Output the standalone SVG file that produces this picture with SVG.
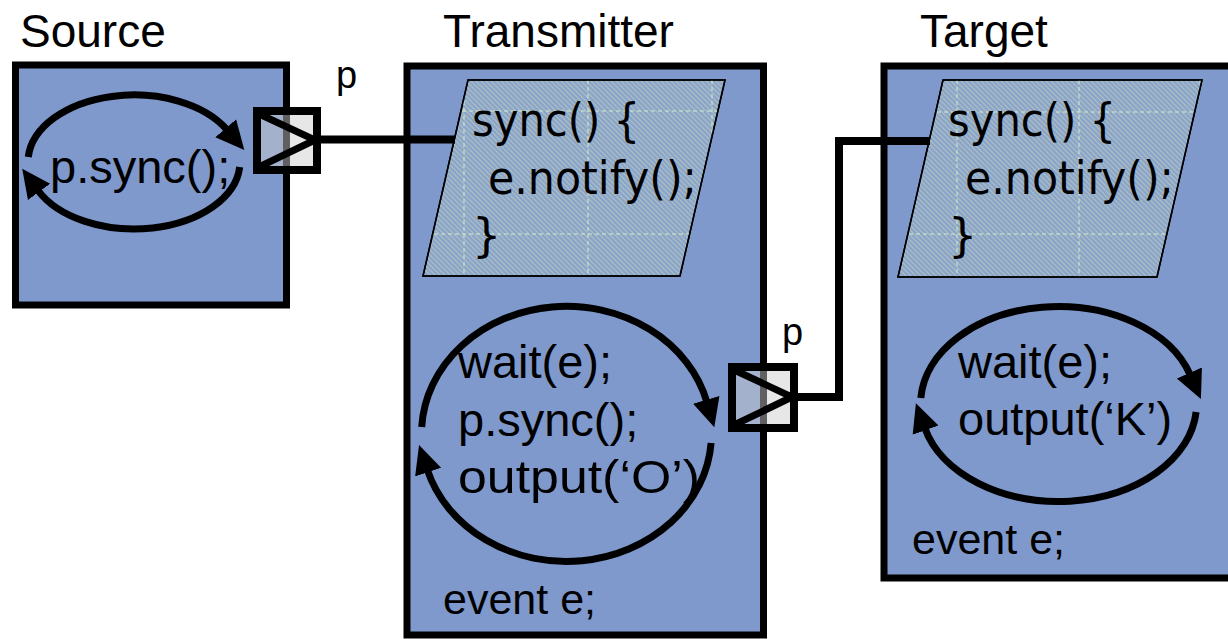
<svg xmlns="http://www.w3.org/2000/svg" width="1228" height="639" viewBox="0 0 1228 639">
<style>
.box{fill:#7F99CC;stroke:#000;stroke-width:7}
.title{font-family:"Liberation Sans",Arial,sans-serif;font-size:46px;fill:#000}
.code{font-family:"Liberation Sans",Arial,sans-serif;font-size:47px;fill:#000}
.ev{font-family:"Liberation Sans",Arial,sans-serif;font-size:43px;fill:#000}
.pl{font-family:"Liberation Sans",Arial,sans-serif;font-size:38px;fill:#000}
.tah{font-family:"DejaVu Sans",Verdana,sans-serif;font-size:46px;fill:#000}
.para{fill:url(#hatch);stroke:#000;stroke-width:1.5}
.grid{stroke:#D4EDC8;stroke-width:1;stroke-dasharray:4 3;fill:none}
.loop{fill:none;stroke:#000;stroke-width:7;marker-end:url(#ah)}
.portbox{fill:#CCCCCC;fill-opacity:0.47;stroke:#000;stroke-width:8}
.porttri{fill:none;stroke:#000;stroke-width:7;stroke-linejoin:miter}
.wire{fill:none;stroke:#000;stroke-width:8;stroke-linejoin:miter}
</style>
<defs>
<marker id="ah" markerUnits="userSpaceOnUse" markerWidth="32" markerHeight="32" viewBox="0 -13 28 26" refX="2" refY="0" orient="auto">
<path d="M0,-12 L25,0 L0,12 z" fill="#000"/>
</marker>
<pattern id="hatch" patternUnits="userSpaceOnUse" width="5" height="5">
<rect width="5" height="5" fill="#8CA3CC"/>
<path d="M-1,-1 L6,6 M-1,4 L1,6 M4,-1 L6,1" stroke="#ABC3BF" stroke-width="1.2"/>
</pattern>
<clipPath id="clipT"><polygon points="468,80 725,80 680,276 423,276"/></clipPath>
<clipPath id="clipG"><polygon points="943,80 1202,80 1157,277 898,277"/></clipPath>
</defs>

<rect width="1228" height="639" fill="#FFFFFF"/>

<g id="source">
<text class="title" x="20" y="47">Source</text>
<rect class="box" x="15.5" y="65" width="271" height="240"/>
<text class="code" x="50" y="183">p.sync();</text>
<path class="loop" d="M28.3,157 A106,67 0 0 1 227.2,130"/>
<path class="loop" d="M239.7,167 A106,67 0 0 1 37.7,190"/>
</g>

<g id="transmitter">
<text class="title" x="443" y="47">Transmitter</text>
<rect class="box" x="407" y="66" width="356.5" height="569"/>
<polygon class="para" points="468,80 725,80 680,276 423,276"/>
<g clip-path="url(#clipT)">
<path class="grid" d="M464,80 V276 M588,80 V276 M712,80 V276 M420,111 H730 M420,234 H730"/>
</g>
<polygon fill="none" stroke="#000" stroke-width="1.5" points="468,80 725,80 680,276 423,276"/>
<text class="tah" x="472" y="136" textLength="168" lengthAdjust="spacingAndGlyphs">sync() {</text>
<text class="tah" x="488" y="194" textLength="209" lengthAdjust="spacingAndGlyphs">e.notify();</text>
<text class="tah" x="472" y="251">}</text>
<text class="code" x="458" y="378">wait(e);</text>
<text class="code" x="458" y="436">p.sync();</text>
<text class="code" x="458" y="493" textLength="242" lengthAdjust="spacingAndGlyphs">output(‘O’)</text>
<path class="loop" d="M421.7,427 A145,127.5 0 0 1 706.9,402"/>
<path class="loop" d="M711.1,443 A145,127.5 0 0 1 427.4,470"/>
<text class="ev" x="443" y="614">event e;</text>
</g>

<g id="target">
<text class="title" x="920" y="47">Target</text>
<rect class="box" x="884" y="66" width="360" height="512"/>
<polygon class="para" points="943,80 1202,80 1157,277 898,277"/>
<g clip-path="url(#clipG)">
<path class="grid" d="M957,80 V277 M1079,80 V277 M1200,80 V277 M895,112 H1205 M895,234 H1205"/>
</g>
<polygon fill="none" stroke="#000" stroke-width="1.5" points="943,80 1202,80 1157,277 898,277"/>
<text class="tah" x="948" y="136" textLength="168" lengthAdjust="spacingAndGlyphs">sync() {</text>
<text class="tah" x="965" y="194" textLength="209" lengthAdjust="spacingAndGlyphs">e.notify();</text>
<text class="tah" x="948" y="251">}</text>
<text class="code" x="958" y="378">wait(e);</text>
<text class="code" x="958" y="435">output(‘K’)</text>
<path class="loop" d="M920.8,398 A138,97.5 0 0 1 1190.3,375"/>
<path class="loop" d="M1196.1,412 A138,97.5 0 0 1 924.8,428"/>
<text class="ev" x="912" y="554">event e;</text>
</g>

<g id="port1">
<rect class="portbox" x="257" y="111" width="60" height="59"/>
<polygon class="porttri" points="257,113 315,140 257,168"/>
<text class="pl" x="336" y="88">p</text>
</g>

<g id="port2">
<rect class="portbox" x="732" y="367" width="62" height="61"/>
<polygon class="porttri" points="732,369 792,397 732,426"/>
<text class="pl" x="782" y="345">p</text>
</g>

<g id="connectors">
<path class="wire" d="M321,139.5 H455"/>
<path class="wire" d="M798,397 H839 V141 H930"/>
</g>
</svg>
